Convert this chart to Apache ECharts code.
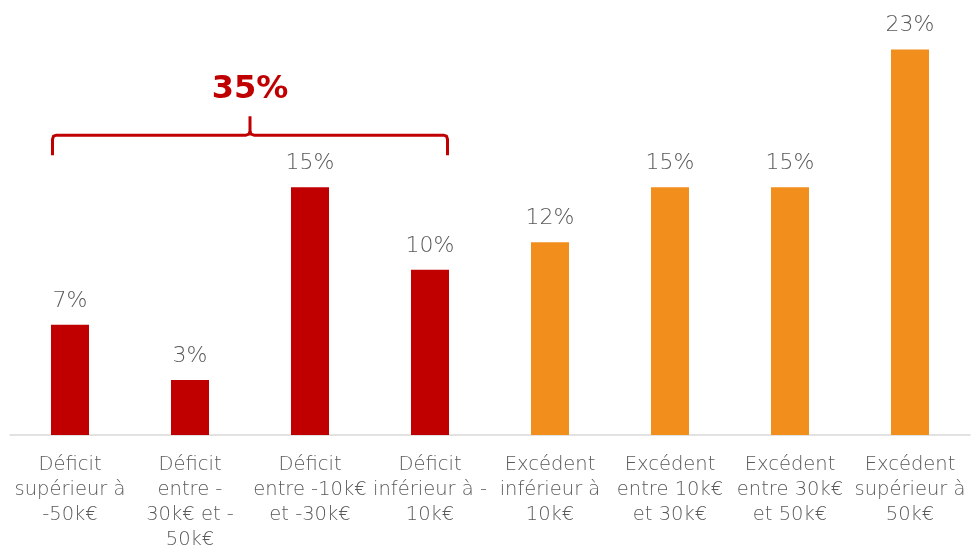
<!DOCTYPE html>
<html>
<head>
<meta charset="utf-8">
<script src="https://cdn.jsdelivr.net/npm/echarts@6/dist/echarts.min.js"></script>
<style>html,body{margin:0;padding:0;background:#fff}#c{width:977px;height:548px}</style>
</head>
<body>
<div id="c"></div>
<script>
const categories = [
  "Déficit\nsupérieur à\n-50k€",
  "Déficit\nentre -\n30k€ et -\n50k€",
  "Déficit\nentre -10k€\net -30k€",
  "Déficit\ninférieur à -\n10k€",
  "Excédent\ninférieur à\n10k€",
  "Excédent\nentre 10k€\net 30k€",
  "Excédent\nentre 30k€\net 50k€",
  "Excédent\nsupérieur à\n50k€"
];
const values = [6.67, 3.33, 15.0, 10.0, 11.67, 15.0, 15.0, 23.33];
const barColors = ["#C00000","#C00000","#C00000","#C00000","#F28E1C","#F28E1C","#F28E1C","#F28E1C"];
const bracketLabel = "35%";
const bracketFrom = 0, bracketTo = 3;
const bracketLevel = 18.15;

const FONT = "'DejaVu Sans', sans-serif";
const chart = echarts.init(document.getElementById('c'), null, {renderer: 'canvas'});
chart.setOption({
  animation: false,
  grid: {left: 10, right: 7, top: 22, bottom: 113, containLabel: false, outerBoundsMode: 'none'},
  xAxis: {
    type: 'category', data: categories,
    axisLine: {show: true, lineStyle: {color: '#D9D9D9', width: 1.5}},
    axisTick: {show: false},
    axisLabel: {interval: 0, color: '#595959', fontFamily: FONT, fontSize: 19.5, fontWeight: 200, lineHeight: 25, margin: 17}
  },
  yAxis: {type: 'value', min: 0, max: 25, show: false, splitLine: {show: false}},
  series: [{
    type: 'bar', barWidth: 38,
    data: values.map((v, i) => ({value: v, itemStyle: {color: barColors[i]}})),
    label: {show: true, position: 'top', distance: 13, color: '#595959', fontFamily: FONT, fontSize: 22, fontWeight: 200,
      formatter: p => Math.round(p.value) + '%'}
  }]
});

function drawBracket() {
  const x0 = chart.convertToPixel({xAxisIndex: 0}, bracketFrom) - 19 + 1.5;
  const x1 = chart.convertToPixel({xAxisIndex: 0}, bracketTo) + 19 - 1.5;
  const y = chart.convertToPixel({yAxisIndex: 0}, bracketLevel);
  const xm = (x0 + x1) / 2;
  const left = [[x0, y + 20], [x0, y + 4], [x0 + 1, y + 1], [x0 + 4, y], [xm - 4, y], [xm - 1, y - 1], [xm, y - 4], [xm, y - 19]];
  const right = [[x1, y + 20], [x1, y + 4], [x1 - 1, y + 1], [x1 - 4, y], [xm + 4, y], [xm + 1, y - 1], [xm, y - 4]];
  const ls = {stroke: '#C00000', lineWidth: 3, fill: null, lineJoin: 'round'};
  chart.setOption({
    graphic: [
      {type: 'polyline', shape: {points: left}, style: ls},
      {type: 'polyline', shape: {points: right}, style: ls},
      {type: 'text', x: xm, y: y - 29, style: {text: bracketLabel, fill: '#C00000', fontFamily: FONT, fontWeight: 'bold', fontSize: 32, textAlign: 'center', textVerticalAlign: 'bottom'}}
    ]
  });
}
drawBracket();
</script>
</body>
</html>
